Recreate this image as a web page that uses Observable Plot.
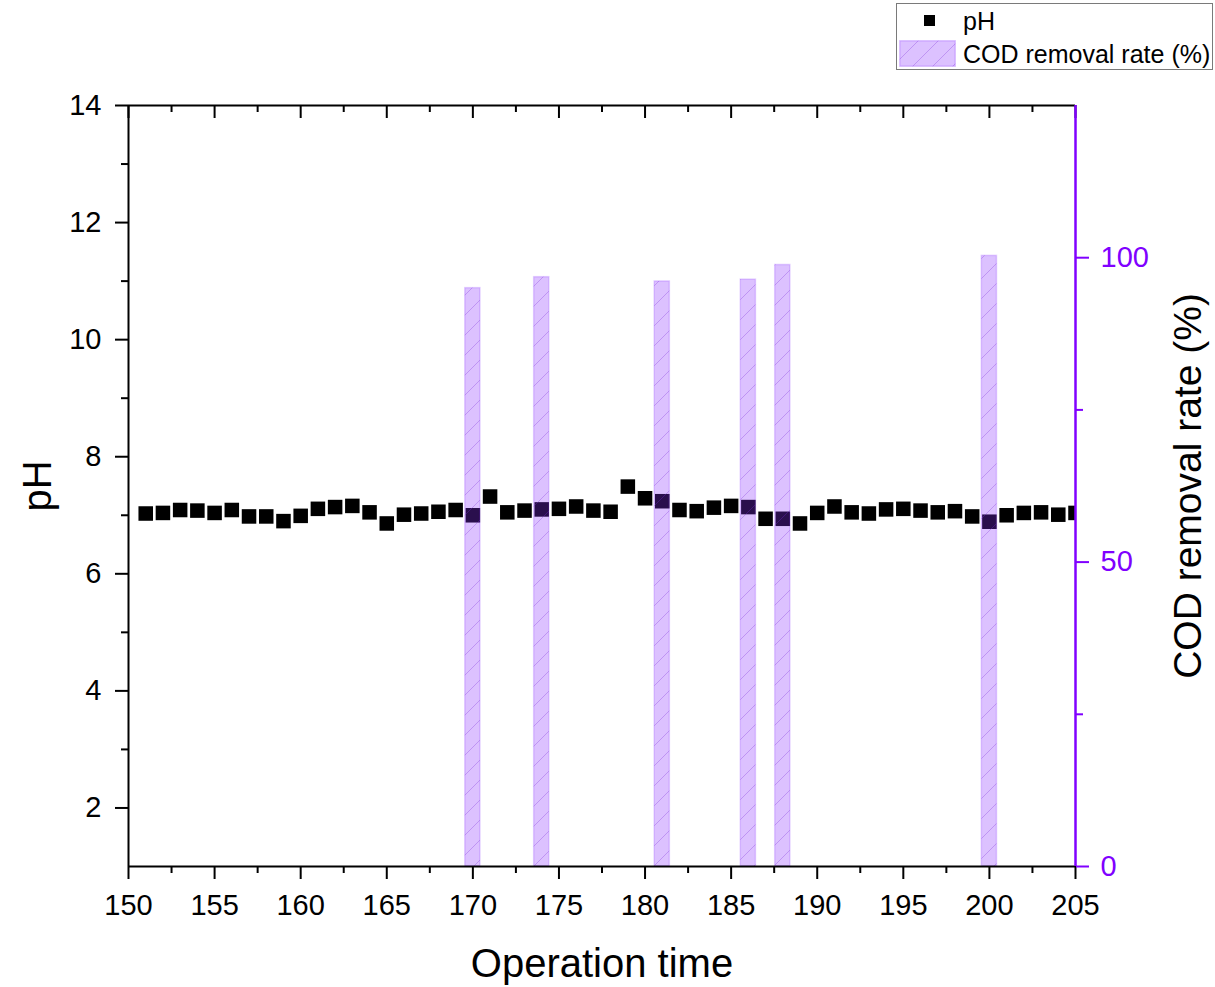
<!DOCTYPE html>
<html>
<head>
<meta charset="utf-8">
<script src="https://cdn.jsdelivr.net/npm/d3@7"></script>
<script src="https://cdn.jsdelivr.net/npm/@observablehq/plot@0.6"></script>
<style>
  body { margin: 0; background: #fff; font-family: "Liberation Sans", Arial, sans-serif; }
  #wrap { position: relative; width: 1215px; height: 987px; overflow: hidden; }
  #defs { position: absolute; width: 0; height: 0; }
  #legend { position: absolute; left: 896px; top: 3px; width: 317px; height: 67px; border: 1px solid #7a7a7a; background: #fff; box-sizing: border-box; }
  #legend .lbl { position: absolute; left: 66px; font-size: 25px; line-height: 1; color: #000; white-space: nowrap; }
  #legend .sq { position: absolute; left: 27px; top: 11px; width: 11px; height: 11px; background: #000; }
  #legend svg { position: absolute; left: 2px; top: 36px; }
</style>
</head>
<body>
<svg id="defs" width="0" height="0">
  <defs>
    <pattern id="hatch" patternUnits="userSpaceOnUse" width="20" height="20">
      <path d="M0,20 L20,0 M-5,5 L5,-5 M15,25 L25,15" stroke="#7a2bd9" stroke-opacity="0.3" stroke-width="1"/>
    </pattern>
  </defs>
</svg>
<div id="wrap">
  <div id="chart"></div>
  <div id="legend">
    <div class="sq"></div>
    <div class="lbl" id="l1" style="top:5px;"></div>
    <svg width="57" height="27">
      <rect x="0.75" y="0.75" width="55.5" height="25.5" fill="#8a33ff" fill-opacity="0.3" stroke="#8a33ff" stroke-opacity="0.25" stroke-width="1.5"/>
      <rect x="0.75" y="0.75" width="55.5" height="25.5" fill="url(#hatch)"/>
    </svg>
    <div class="lbl" id="l2" style="top:38px;"></div>
  </div>
</div>
<script>
// ---- data ----
const phDays = [151,152,153,154,155,156,157,158,159,160,161,162,163,164,165,166,167,168,169,170,
  171,172,173,174,175,176,177,178,179,180,181,182,183,184,185,186,187,188,189,190,
  191,192,193,194,195,196,197,198,199,200,201,202,203,204,205];
const phValues = [7.03,7.04,7.09,7.08,7.04,7.09,6.98,6.98,6.90,6.99,7.11,7.14,7.16,7.05,6.86,7.01,7.03,7.06,7.09,7.00,
  7.32,7.05,7.08,7.10,7.11,7.15,7.08,7.06,7.49,7.29,7.24,7.09,7.07,7.13,7.16,7.14,6.94,6.94,6.86,7.04,
  7.15,7.05,7.03,7.10,7.11,7.08,7.05,7.07,6.98,6.89,7.00,7.04,7.05,7.01,7.04];
const codDays = [170,174,181,186,188,200];
const codValues = [95.0,96.8,96.1,96.4,98.8,100.3];

const xMajorTicks = [150,155,160,165,170,175,180,185,190,195,200,205];
const xMinorTicks = [152.5,157.5,162.5,167.5,172.5,177.5,182.5,187.5,192.5,197.5,202.5];
const yMajorTicks = [2,4,6,8,10,12,14];
const yMinorTicks = [3,5,7,9,11,13];
const codMajorTicks = [0,50,100];
const codMinorTicks = [25,75];

const seriesNames = ["pH","COD removal rate (%)"];
const xTitle = "Operation time";
const yTitle = "pH";
const y2Title = "COD removal rate (%)";

// ---- build ----
const phData = phDays.map((t,i) => ({t, ph: phValues[i]}));
const codData = codDays.map((t,i) => ({t, v: codValues[i]}));

const W = 1215, H = 987, mL = 128, mR = 140, mT = 105, mB = 121;
const innerH = H - mT - mB;
const purple = "#8000ff";
const yDomain = [1, 14], y2Domain = [0, 125];
const codToY = v => yDomain[0] + (v - y2Domain[0]) * (yDomain[1] - yDomain[0]) / (y2Domain[1] - y2Domain[0]);
const yToCod = y => (y - yDomain[0]) * (y2Domain[1] - y2Domain[0]) / (yDomain[1] - yDomain[0]) + y2Domain[0];
const barHalf = 0.44;

document.getElementById("l1").textContent = seriesNames[0];
document.getElementById("l2").textContent = seriesNames[1];

const chart = Plot.plot({
  width: W, height: H,
  marginLeft: mL, marginRight: mR, marginTop: mT, marginBottom: mB,
  x: {domain: [150, 205], label: null},
  y: {domain: yDomain, label: null},
  style: {fontFamily: '"Liberation Sans", Arial, sans-serif', fontSize: "29px", color: "#000", background: "#fff"},
  marks: [
    Plot.dot(phData, {x: "t", y: "ph", symbol: "square", r: 8.2, fill: "#000", clip: true}),
    Plot.rectY(codData, {x1: d => d.t - barHalf, x2: d => d.t + barHalf, y1: yDomain[0], y2: d => codToY(d.v),
      fill: "#8a33ff", fillOpacity: 0.3, stroke: "#8a33ff", strokeOpacity: 0.22, strokeWidth: 1.5}),
    Plot.rectY(codData, {x1: d => d.t - barHalf, x2: d => d.t + barHalf, y1: yDomain[0], y2: d => codToY(d.v),
      fill: "url(#hatch)"}),
    // frame
    Plot.ruleY([yDomain[0]], {stroke: "#000", strokeWidth: 2}),
    Plot.ruleY([yDomain[1]], {stroke: "#000", strokeWidth: 2}),
    Plot.ruleX([150], {stroke: "#000", strokeWidth: 2}),
    // bottom axis
    Plot.axisX({ticks: xMajorTicks, tickSize: 13, tickPadding: 15, strokeWidth: 2, tickFormat: d => String(d), label: null}),
    Plot.axisX({ticks: xMinorTicks, tickSize: 7, strokeWidth: 2, tickFormat: () => "", label: null}),
    // top inward ticks
    Plot.tickX(xMajorTicks, {x: d => d, insetBottom: innerH - 13, stroke: "#000", strokeWidth: 2}),
    Plot.tickX(xMinorTicks, {x: d => d, insetBottom: innerH - 7, stroke: "#000", strokeWidth: 2}),
    // left axis
    Plot.axisY({ticks: yMajorTicks, tickSize: 13, tickPadding: 14, strokeWidth: 2, tickFormat: d => String(d), label: null}),
    Plot.axisY({ticks: yMinorTicks, tickSize: 7, strokeWidth: 2, tickFormat: () => "", label: null}),
    // right axis (COD)
    Plot.ruleX([205], {stroke: purple, strokeWidth: 2.5}),
    Plot.axisY({anchor: "right", ticks: codMajorTicks.map(codToY), tickSize: 13, tickPadding: 12, strokeWidth: 2,
      color: purple, tickFormat: d => String(Math.round(yToCod(d))), label: null}),
    Plot.axisY({anchor: "right", ticks: codMinorTicks.map(codToY), tickSize: 7, strokeWidth: 2,
      color: purple, tickFormat: () => "", label: null}),
    // titles
    Plot.text([yTitle], {text: d => d, frameAnchor: "left", textAnchor: "middle", dx: -90, rotate: -90, fontSize: 40, fill: "#000"}),
    Plot.text([y2Title], {text: d => d, frameAnchor: "right", textAnchor: "middle", dx: 113, rotate: -90, fontSize: 39, fill: "#000"}),
    Plot.text([xTitle], {text: d => d, frameAnchor: "bottom", textAnchor: "middle", dy: 110, fontSize: 40, fill: "#000"})
  ]
});
document.getElementById("chart").appendChild(chart);
</script>
</body>
</html>
